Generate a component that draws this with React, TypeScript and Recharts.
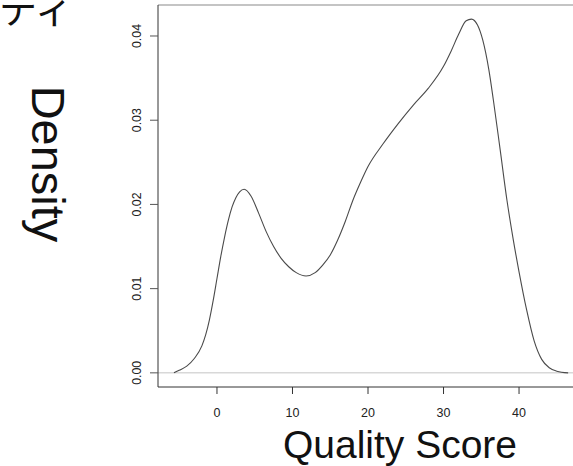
import React from "react";
import { LineChart, Line, XAxis, YAxis, ReferenceLine } from "recharts";

// Kernel density estimate of read quality scores
const qualityScores = [
  -5.7, -5, -4, -3, -2, -1.5, -1, -0.5, 0, 0.5, 1, 1.5, 2, 2.5, 3, 3.6, 4.5, 5.5,
  6.5, 7.5, 8.5, 9.5, 10.5, 11.8, 13, 14, 15, 16, 17, 18, 19, 20, 22, 24, 26, 28,
  30, 31, 32, 33, 33.7, 34.5, 35.2, 36, 36.6, 37.5, 38.4, 39.2, 40, 41, 42, 43,
  44, 45, 46.5,
];
const densities = [
  0, 0.0003, 0.0008, 0.0017, 0.0032, 0.0045, 0.0063, 0.0086, 0.0112, 0.0138,
  0.0161, 0.0181, 0.0197, 0.0208, 0.0215, 0.0218, 0.021, 0.019, 0.0168, 0.015,
  0.0136, 0.0126, 0.0119, 0.0115, 0.0119, 0.0128, 0.014, 0.0158, 0.018, 0.0205,
  0.0226, 0.0245, 0.0272, 0.0296, 0.0318, 0.0338, 0.0364, 0.0382, 0.0402,
  0.0418, 0.042, 0.0413, 0.0395, 0.036, 0.0324, 0.0265, 0.0205, 0.016, 0.012,
  0.0075, 0.0038, 0.0016, 0.0006, 0.0002, 0,
];
const xTicks = [0, 10, 20, 30, 40];
const yTicks = [0, 0.01, 0.02, 0.03, 0.04];
const yTickLabels = ["0.00", "0.01", "0.02", "0.03", "0.04"];

const data = qualityScores.map((q, i) => ({ q, d: densities[i] }));

const X_DOMAIN: [number, number] = [-7.81, 49.0];
const Y_DOMAIN: [number, number] = [-0.00168, 0.04368];
const FONT = "'Liberation Sans', Arial, Helvetica, sans-serif";

const XTick = (props: any) => {
  const { x, y, payload } = props;
  return (
    <text x={x} y={y + 21} textAnchor="middle" fontFamily={FONT} fontSize={12.5} fill="#222">
      {payload.value}
    </text>
  );
};

const YTick = (props: any) => {
  const { y, payload, index } = props;
  const cx = 141;
  const label = yTickLabels[index] ?? String(payload.value);
  return (
    <text
      x={cx}
      y={y}
      transform={`rotate(-90, ${cx}, ${y})`}
      textAnchor="middle"
      fontFamily={FONT}
      fontSize={12.5}
      fill="#222"
      textLength={24}
      lengthAdjust="spacingAndGlyphs"
    >
      {label}
    </text>
  );
};

export default function App() {
  return (
    <div
      style={{
        position: "fixed",
        left: 0,
        top: 0,
        width: 573,
        height: 466,
        overflow: "hidden",
        background: "#fff",
      }}
    >
      <div style={{ position: "absolute", left: 0, top: 0 }}>
        <LineChart
          width={620}
          height={466}
          data={data}
          margin={{ top: 5, right: 33, bottom: 0, left: 0 }}
        >
          <XAxis
            dataKey="q"
            type="number"
            domain={X_DOMAIN}
            ticks={xTicks}
            allowDataOverflow
            height={79}
            stroke="#333"
            tickLine={{ stroke: "#333" }}
            tickSize={7}
            tick={<XTick />}
          />
          <YAxis
            type="number"
            domain={Y_DOMAIN}
            ticks={yTicks}
            allowDataOverflow
            width={158}
            stroke="#333"
            tickLine={{ stroke: "#555" }}
            tickSize={8}
            tick={<YTick />}
          />
          <ReferenceLine y={Y_DOMAIN[1]} stroke="#8a8a8a" strokeWidth={1.2} ifOverflow="extendDomain" />
          <ReferenceLine y={0} stroke="#c4c4c4" strokeWidth={1} />
          <Line
            type="monotone"
            dataKey="d"
            stroke="#4a4a4a"
            strokeWidth={1.1}
            dot={false}
            activeDot={false}
            isAnimationActive={false}
          />
        </LineChart>
      </div>
      <svg
        width={573}
        height={466}
        style={{ position: "absolute", left: 0, top: 0, pointerEvents: "none" }}
      >
        <text
          x={-1}
          y={23}
          fontFamily="'Noto Sans CJK JP', sans-serif"
          fontSize={38}
          fill="#111"
        >
          ティ
        </text>
        <text
          x={32}
          y={164}
          transform="rotate(90, 32, 164)"
          textAnchor="middle"
          fontFamily={FONT}
          fontSize={47}
          fill="#111"
        >
          Density
        </text>
        <text
          x={400}
          y={458}
          textAnchor="middle"
          fontFamily={FONT}
          fontSize={39}
          fill="#111"
        >
          Quality Score
        </text>
      </svg>
    </div>
  );
}
